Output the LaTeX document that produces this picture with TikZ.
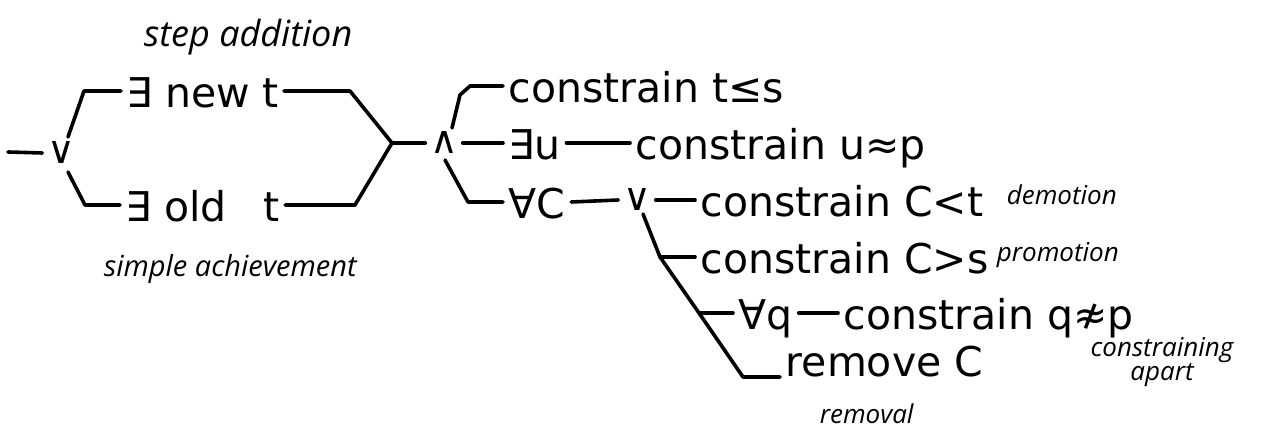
\documentclass[tikz,border=0pt]{standalone}
\usepackage{fontspec}
\setmainfont{DejaVu Sans}
\newfontfamily\notefont{Open Sans}
\usepackage{tikz}

\begin{document}
\begin{tikzpicture}[x=0.5pt, y=-0.5pt, line width=1.8pt, line cap=round, line join=round,
    term/.style={anchor=west, inner sep=2pt, font=\fontsize{20.5}{24}\selectfont, text height=17pt, text depth=0pt},
    op/.style={inner sep=1.5pt, font=\fontsize{19}{20}\selectfont},
    note/.style={anchor=base west, inner sep=0pt, font=\notefont\itshape\fontsize{13}{12}\selectfont}]
    \useasboundingbox (0,0) rectangle (1262,437);
    % choice of step
    \coordinate (in) at (8,152);
    \node[op] (orA) at (61,153) {∨};
    \node[term] (newT) at (121,91) {∃\hspace{0.3em}new\hspace{0.3em}t};
    \node[term] (oldT) at (120,205) {∃\hspace{0.3em}old\hspace{0.9em}t};
    \coordinate (a1) at (68,137);
    \coordinate (a2) at (84,91);
    \coordinate (a3) at (68,172);
    \coordinate (a4) at (85,205);
    \coordinate (b1) at (350,91);
    \coordinate (b2) at (355,205);
    \coordinate (j1) at (392,143);
    \draw (in) -- (orA.west);
    \draw (a1) -- (a2) -- (newT.west);
    \draw (a3) -- (a4) -- (oldT.west);
    \draw (newT.east) -- (b1) -- (j1);
    \draw (oldT.east) -- (b2) -- (j1);
    \node[note, font=\notefont\itshape\fontsize{18}{20}\selectfont] (stepAdd) at (142,47) {step addition};
    \node[note, font=\notefont\itshape\fontsize{14.5}{16}\selectfont] (simpleAch) at (102,277) {simple achievement};
    % constraints
    \node[op] (andA) at (444,143) {∧};
    \draw (j1) -- (andA.west);
    \node[term] (cTS) at (503,86) {constrain t≤s};
    \node[term] (exU) at (503,143) {∃u};
    \node[term] (cUP) at (630,143) {constrain u≈p};
    \node[term] (allC) at (503,202) {∀C};
    \node[op] (orB) at (637,200) {∨};
    \node[term] (cCT) at (695,200) {constrain C<t};
    \coordinate (c1) at (452,128);
    \coordinate (c2) at (460,95);
    \coordinate (c3) at (470,86);
    \coordinate (c4) at (445,160);
    \coordinate (c5) at (468,202);
    \draw (c1) -- (c2) -- (c3) -- (cTS.west);
    \draw (andA.east) -- (exU.west);
    \draw (exU.east) -- (cUP.west);
    \draw (c4) -- (c5) -- (allC.west);
    \draw (allC.east) -- (orB.west);
    \draw (orB.east) -- (cCT.west);
    % threats
    \node[term] (cCS) at (695,257) {constrain C>s};
    \node[term] (allQ) at (733,313) {∀q};
    \node[term] (cQP) at (838,313) {constrain q≉p};
    \node[anchor=base west, inner sep=2pt, font=\fontsize{20.5}{24}\selectfont] (remC) at (780,377) {remove C};
    \coordinate (d0) at (643,214);
    \coordinate (j2) at (660,257);
    \coordinate (j3) at (699,313);
    \coordinate (j4) at (743,377);
    \draw (d0) -- (j2) -- (j3) -- (j4) -- (remC.base west);
    \draw (j2) -- (cCS.west);
    \draw (j3) -- (allQ.west);
    \draw (allQ.east) -- (cQP.west);
    \node[note] (demote) at (1005,205) {demotion};
    \node[note] (promote) at (995,262) {promotion};
    \node[note] (removal) at (818,423) {removal};
    \node[note, anchor=center, align=center] (apart) at (1162,362) {constraining\\apart};
\end{tikzpicture}
\end{document}
